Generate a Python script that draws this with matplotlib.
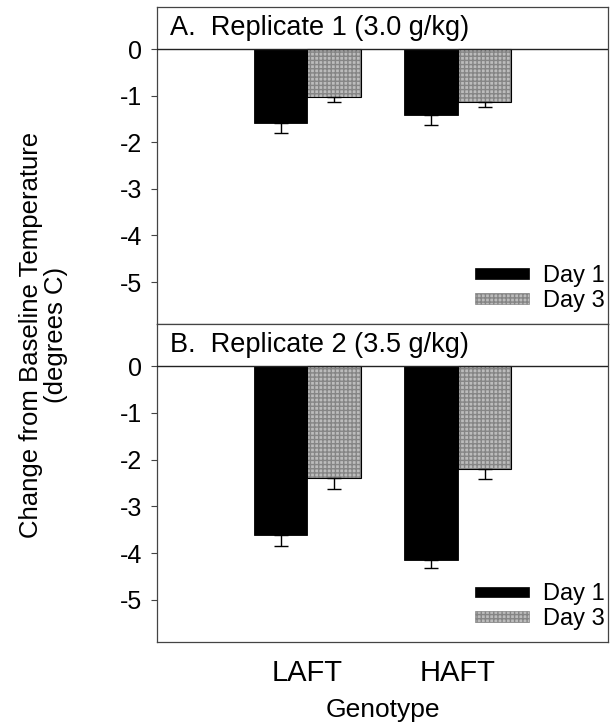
import numpy as np
import matplotlib
matplotlib.use("Agg")
import matplotlib.pyplot as plt
from matplotlib.patches import Patch

plt.rcParams["font.family"] = ["Liberation Sans", "DejaVu Sans"]

# data
genotypes = ["LAFT", "HAFT"]
days = ["Day 1", "Day 3"]
panel_titles = ["A.  Replicate 1 (3.0 g/kg)", "B.  Replicate 2 (3.5 g/kg)"]
rep1_day1 = [-1.59, -1.42]
rep1_day3 = [-1.02, -1.14]
rep1_day1_err = [0.21, 0.20]
rep1_day3_err = [0.12, 0.11]
rep2_day1 = [-3.61, -4.14]
rep2_day3 = [-2.39, -2.20]
rep2_day1_err = [0.23, 0.18]
rep2_day3_err = [0.23, 0.22]
yticks = [0, -1, -2, -3, -4, -5]

EDGE = "#444444"
GRAY = "#bcbcbc"
HATCH_EDGE = "#858585"


def draw_panel(ax, title, d1, d3, e1, e3, show_x):
    x = np.arange(1, len(genotypes) + 1)
    w = 0.357
    ax.bar(x - w / 2, d1, w, color="black", edgecolor="black", lw=0.6)
    ax.bar(x + w / 2, d3, w, color=GRAY, edgecolor=HATCH_EDGE, lw=0, hatch="++++")
    ax.bar(x + w / 2, d3, w, fill=False, edgecolor="black", lw=0.8)
    ax.errorbar(x - w / 2, d1, yerr=[e1, [0] * len(e1)], fmt="none",
                ecolor="black", elinewidth=1, capsize=5, capthick=1)
    ax.errorbar(x + w / 2, d3, yerr=[e3, [0] * len(e3)], fmt="none",
                ecolor="black", elinewidth=1, capsize=5, capthick=1)

    ax.set_xlim(0, 3)
    ax.set_ylim(-5.9, 0.9)
    ax.axhline(0, color="#222222", lw=1.0, zorder=5)
    ax.set_yticks(yticks)
    ax.set_yticklabels([str(t) for t in yticks], fontsize=18)
    ax.tick_params(axis="y", length=4, width=0.8, color=EDGE, pad=7)
    if show_x:
        ax.set_xticks(x)
        ax.set_xticklabels(genotypes, fontsize=21)
        ax.tick_params(axis="x", length=0, pad=12)
        ax.set_xlabel("Genotype", fontsize=19, labelpad=8)
    else:
        ax.set_xticks([])
    for s in ax.spines.values():
        s.set_color(EDGE)
        s.set_linewidth(0.9)

    ax.text(0.085, 0.45, title, fontsize=19.5, va="center", ha="left",
            transform=ax.transData)

    handles = [Patch(facecolor="black", edgecolor="black", lw=0.5),
               Patch(facecolor=GRAY, edgecolor=HATCH_EDGE, hatch="++++", lw=0.5)]
    ax.legend(handles, days, loc="lower right", frameon=False,
              fontsize=17, handlelength=2.3, handleheight=0.32,
              handletextpad=0.6, labelspacing=0.12,
              borderaxespad=0.1, bbox_to_anchor=(1.02, 0.0))


fig = plt.figure(figsize=(6.16, 7.28), dpi=100)
ax1 = fig.add_axes([0.255, 0.555, 0.732, 0.435])
ax2 = fig.add_axes([0.255, 0.118, 0.732, 0.437])

draw_panel(ax1, panel_titles[0], rep1_day1, rep1_day3, rep1_day1_err, rep1_day3_err, False)
draw_panel(ax2, panel_titles[1], rep2_day1, rep2_day3, rep2_day1_err, rep2_day3_err, True)

fig.text(0.07, 0.54, "Change from Baseline Temperature\n(degrees C)",
         rotation=90, ha="center", va="center", fontsize=18.5, linespacing=1.05)

fig.savefig("out.png", dpi=100)
